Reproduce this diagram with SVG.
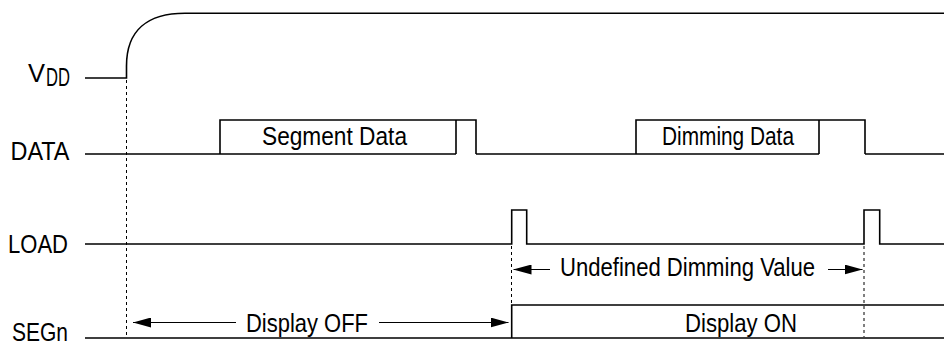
<svg xmlns="http://www.w3.org/2000/svg" width="944" height="347" viewBox="0 0 944 347">
<defs>
<style>
.sig{fill:none;stroke:#000;stroke-width:1.6}
.dot{fill:none;stroke:#000;stroke-width:1;stroke-dasharray:3,3}
.arr{fill:none;stroke:#000;stroke-width:1.2}
.t{font-family:"Liberation Sans Narrow","Liberation Sans",Arial,sans-serif;font-size:26.5px;fill:#000}
</style>
<marker id="ah" viewBox="0 0 18 10" refX="18" refY="5" markerWidth="18" markerHeight="10" markerUnits="userSpaceOnUse" orient="auto-start-reverse">
<path d="M0,0 L18,5 L0,10 Z" fill="#000"/>
</marker>
</defs>
<rect width="944" height="347" fill="#fff"/>
<g id="labels">
<text class="t" x="28" y="81.5" textLength="17" lengthAdjust="spacingAndGlyphs">V</text>
<text class="t" x="46" y="86" font-size="16.5" textLength="24" lengthAdjust="spacingAndGlyphs">DD</text>
<text class="t" x="10.5" y="160" textLength="59" lengthAdjust="spacingAndGlyphs">DATA</text>
<text class="t" x="8" y="252.5" textLength="60" lengthAdjust="spacingAndGlyphs">LOAD</text>
<text class="t" x="12" y="341" textLength="56" lengthAdjust="spacingAndGlyphs">SEGn</text>
</g>
<g id="connectors">
<line class="dot" x1="126.5" y1="80" x2="126.5" y2="337"/>
<line class="dot" x1="511.5" y1="246" x2="511.5" y2="304"/>
<line class="dot" x1="864" y1="246" x2="864" y2="337"/>
<line class="arr" x1="236" y1="322.5" x2="133" y2="322.5" marker-end="url(#ah)"/>
<line class="arr" x1="379" y1="322.5" x2="508.5" y2="322.5" marker-end="url(#ah)"/>
<line class="arr" x1="550" y1="269.5" x2="513.5" y2="269.5" marker-end="url(#ah)"/>
<line class="arr" x1="828" y1="269.5" x2="862.5" y2="269.5" marker-end="url(#ah)"/>
</g>
<g id="vdd">
<path class="sig" d="M85,78 H126.5 V66 C126.5,30 148,13.3 185,13.3 H944"/>
</g>
<g id="data">
<path class="sig" d="M85,154 H456 M476,154 H819 M865,154 H944"/>
<path class="sig" d="M220,154 V120 H476 V154 M456,120 V154"/>
<path class="sig" d="M636,154 V120 H865 V154 M819,120 V154"/>
<text class="t" x="262" y="145" textLength="145" lengthAdjust="spacingAndGlyphs">Segment Data</text>
<text class="t" x="662" y="145" textLength="132" lengthAdjust="spacingAndGlyphs">Dimming Data</text>
</g>
<g id="load">
<path class="sig" d="M85,244 H511.7 V210 H526.7 V244 H864 V210 H879.7 V244 H944"/>
</g>
<g id="segn">
<path class="sig" d="M85,338 H944 M511.7,338 V305 H944"/>
<text class="t" x="246" y="332" textLength="122" lengthAdjust="spacingAndGlyphs">Display OFF</text>
<text class="t" x="685" y="332" textLength="112" lengthAdjust="spacingAndGlyphs">Display ON</text>
</g>
<g id="undefined">
<text class="t" x="560" y="276" textLength="255" lengthAdjust="spacingAndGlyphs">Undefined Dimming Value</text>
</g>
</svg>
